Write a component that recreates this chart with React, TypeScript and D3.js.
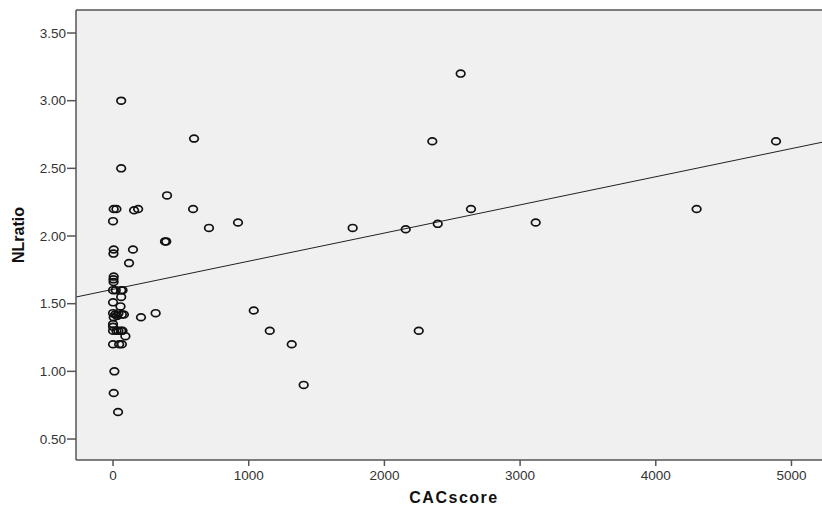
import React from 'react'
import * as d3 from 'd3'

// CAC score vs NL ratio
const cacScore = [
  60, 60, 597, 398, 590, 5, 25, 155, 185, 0, 707, 921, 383, 392, 5, 147, 3,
  118, 5, 3, 4, 0, 20, 60, 70, 60, 0, 55, 0, 15, 40, 65, 80, 5, 30, 206, 314,
  0, 0, 0, 25, 40, 60, 70, 91, 0, 45, 65, 10, 5, 37,
  1037, 1155, 1317, 1405, 1766, 2157, 2393, 2638, 3115, 4301, 4886, 2353,
  2562, 2253,
]
const nlRatio = [
  3.0, 2.5, 2.72, 2.3, 2.2, 2.2, 2.2, 2.19, 2.2, 2.11, 2.06, 2.1, 1.96, 1.96,
  1.9, 1.9, 1.87, 1.8, 1.7, 1.68, 1.66, 1.6, 1.6, 1.6, 1.6, 1.55, 1.51, 1.48,
  1.43, 1.42, 1.43, 1.42, 1.42, 1.4, 1.41, 1.4, 1.43, 1.35, 1.33, 1.3, 1.3,
  1.3, 1.3, 1.3, 1.26, 1.2, 1.2, 1.2, 1.0, 0.84, 0.7,
  1.45, 1.3, 1.2, 0.9, 2.06, 2.05, 2.09, 2.2, 2.1, 2.2, 2.7, 2.7, 3.2, 1.3,
]

const xTicks = [0, 1000, 2000, 3000, 4000, 5000]
const yTicks = [0.5, 1.0, 1.5, 2.0, 2.5, 3.0, 3.5]

// linear fit line (intercept, slope)
const fitIntercept = 1.606
const fitSlope = 0.000208

const width = 822
const height = 512
const left = 76
const top = 10
const bottom = 460
const xMin = -273
const xMax = 5225

const App = () => {
  const x = d3.scaleLinear().domain([xMin, xMax]).range([left, width])
  const y = d3.scaleLinear().domain([0.345, 3.67]).range([bottom, top])
  const fmt = d3.format('.2f')
  const points = cacScore.map((c, i) => ({ c, r: nlRatio[i] }))
  const fit = d3
    .line<number>()
    .x(d => x(d))
    .y(d => y(fitIntercept + fitSlope * d))

  return (
    <svg
      width={width}
      height={height}
      style={{ position: 'absolute', left: 0, top: 0, background: '#fff' }}
      fontFamily="'Liberation Sans', Arial, sans-serif"
    >
      <rect x={left} y={top} width={width - left + 10} height={bottom - top} fill="#f0f0f0" />
      <path d={fit([xMin, xMax]) || ''} stroke="#222" strokeWidth={1} fill="none" />
      {points.map((p, i) => (
        <ellipse
          key={i}
          cx={x(p.c)}
          cy={y(p.r)}
          rx={4.3}
          ry={3.4}
          fill="none"
          stroke="#111"
          strokeWidth={1.7}
        />
      ))}
      <line x1={left} x2={width} y1={top} y2={top} stroke="#555" strokeWidth={1.5} />
      <line x1={left} x2={left} y1={top} y2={bottom} stroke="#555" strokeWidth={1.5} />
      <line x1={left} x2={width} y1={bottom} y2={bottom} stroke="#555" strokeWidth={1.5} />
      {yTicks.map(t => (
        <g key={t} transform={`translate(0,${y(t)})`}>
          <line x1={left - 9} x2={left} stroke="#555" strokeWidth={1.5} />
          <text x={left - 10} dy="0.35em" textAnchor="end" fontSize={13.5} fill="#333">
            {fmt(t)}
          </text>
        </g>
      ))}
      {xTicks.map(t => (
        <g key={t} transform={`translate(${x(t)},0)`}>
          <line y1={bottom} y2={bottom + 6} stroke="#555" strokeWidth={1.5} />
          <text y={bottom + 20} textAnchor="middle" fontSize={13.5} fill="#333">
            {t}
          </text>
        </g>
      ))}
      <text
        x={(left + width + 10) / 2}
        y={503}
        textAnchor="middle"
        fontSize={16}
        fontWeight="bold"
        letterSpacing={1.5}
        fill="#111"
      >
        CACscore
      </text>
      <text
        transform={`translate(24,${(top + bottom) / 2}) rotate(-90)`}
        textAnchor="middle"
        fontSize={16}
        fontWeight="bold"
        fill="#111"
      >
        NLratio
      </text>
    </svg>
  )
}

export default App
